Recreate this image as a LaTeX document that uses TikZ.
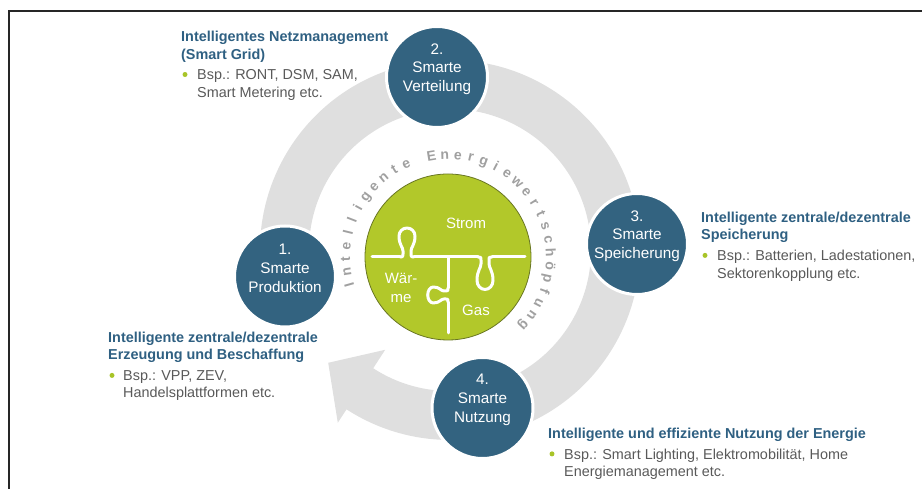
\documentclass[tikz,border=0pt]{standalone}
\usepackage{fontspec}
\setmainfont{Liberation Sans}
\usetikzlibrary{positioning}

\definecolor{smartblue}{RGB}{51,99,128}
\definecolor{headblue}{RGB}{47,96,130}
\definecolor{bodygray}{RGB}{89,89,89}
\definecolor{mixgreen}{RGB}{178,200,42}
\definecolor{mixedge}{RGB}{105,118,35}
\definecolor{dotgreen}{RGB}{168,196,40}
\definecolor{ringgray}{RGB}{223,223,223}
\definecolor{lettergray}{RGB}{160,160,160}

\tikzset{
  knob/.pic={
    \draw[puzzle] (-7,0) .. controls (-4,0) .. (-4,3) -- (-4,6)
      .. controls (-4,10) and (-8,12) .. (-8,21)
      arc[start angle=180, end angle=0, radius=8]
      .. controls (8,12) and (4,10) .. (4,6) -- (4,3) .. controls (4,0) .. (7,0);
  }
}

\begin{document}
\begin{tikzpicture}[x=1pt, y=1pt,
    stage/.style={circle, fill=smartblue, draw=white, line width=3, minimum size=101, inner sep=0},
    stagetext/.style={text=white, align=center, font=\fontsize{15.3}{18.7}\selectfont},
    head/.style={text=headblue, align=left, inner sep=0, anchor=north west, font=\fontsize{14.4}{17.5}\selectfont\bfseries},
    bsp/.style={text=bodygray, align=left, inner sep=0, font=\fontsize{14.4}{17.5}\selectfont},
    dot/.style={circle, fill=dotgreen, minimum size=5, inner sep=0},
    puzzle/.style={draw=white, line width=3, line cap=round, line join=round},
    mixtext/.style={text=white, align=center, font=\fontsize{15}{19}\selectfont},
    letter/.style={text=lettergray, inner sep=0, anchor=base, font=\fontsize{14}{14}\selectfont\bfseries}]
  \useasboundingbox (0,0) rectangle (922,489);
  \draw[line width=2, black!85] (9,0) -- (9,478) -- (922,478);

  \begin{scope}[shift={(450,239)}]
    \fill[ringgray] (190:190) arc[start angle=190, end angle=-123, radius=190]
      -- (-123:206) -- (-137.2:166) -- (-123:119) -- (-123:141)
      arc[start angle=-123, end angle=190, radius=141] -- cycle;
  \end{scope}

  \node[stage, label={[stagetext, yshift=8]center:{1.\\Smarte\\Produktion}}] (prod) at (285,212.5) {};
  \node[stage, label={[stagetext, yshift=8]center:{2.\\Smarte\\Verteilung}}] (vert) at (437,412) {};
  \node[stage, label={[stagetext, yshift=8]center:{3.\\Smarte\\Speicherung}}] (speich) at (637,245) {};
  \node[stage, label={[stagetext, yshift=8]center:{4.\\Smarte\\Nutzung}}] (nutz) at (482.5,81) {};

  \node[circle, fill=mixgreen, draw=mixedge, line width=0.8, minimum size=166, inner sep=0] (mix) at (448,232) {};
  \draw[puzzle] (372,232) -- (400,232);
  \pic at (407,232) {knob};
  \draw[puzzle] (414,232) -- (478,232);
  \pic[rotate=180, yscale=1.12] at (485,232) {knob};
  \draw[puzzle] (492,232) -- (525,232);
  \draw[puzzle] (448,232) -- (448,201);
  \pic[rotate=90, yscale=0.7] at (448,194) {knob};
  \draw[puzzle] (448,187) -- (448,156);
  \node[mixtext] (strom) at (466,265.7) {Strom};
  \node[mixtext] (waerme) at (401,201) {Wär-\\me};
  \node[mixtext] (gas) at (476,179) {Gas};

  \begin{scope}[shift={(448,232)}]
    \foreach \ch [count=\i, evaluate=\i as \a using 196-(\i-1)*7.44] in
        {I,n,t,e,l,l,i,g,e,n,t,e,,E,n,e,r,g,i,e,w,e,r,t,s,c,h,ö,p,f,u,n,g}
      \node[letter, rotate=\a-90] (l\i) at (\a:98) {\ch};
  \end{scope}

  \node[head] (netz) at (181,458) {Intelligentes Netzmanagement\\(Smart Grid)};
  \node[bsp, below right=7 and 16 of netz.south west] (netzbsp) {Bsp.: RONT, DSM, SAM,\\Smart Metering etc.};
  \node[dot] (netzdot) at ([xshift=-12, yshift=-5.2]netzbsp.north west) {};

  \node[head] (speicher) at (701,277.2) {Intelligente zentrale/dezentrale\\Speicherung};
  \node[bsp, below right=7 and 16 of speicher.south west] (speicherbsp) {Bsp.: Batterien, Ladestationen,\\Sektorenkopplung etc.};
  \node[dot] (speicherdot) at ([xshift=-12, yshift=-5.2]speicherbsp.north west) {};

  \node[head] (erzeug) at (108,157.2) {Intelligente zentrale/dezentrale\\Erzeugung und Beschaffung};
  \node[bsp, below right=7 and 15 of erzeug.south west] (erzeugbsp) {Bsp.: VPP, ZEV,\\Handelsplattformen etc.};
  \node[dot] (erzeugdot) at ([xshift=-11, yshift=-5.2]erzeugbsp.north west) {};

  \node[head] (nutzung) at (548,61.2) {Intelligente und effiziente Nutzung der Energie};
  \node[bsp, below right=7 and 16 of nutzung.south west] (nutzungbsp) {Bsp.: Smart Lighting, Elektromobilität, Home\\Energiemanagement etc.};
  \node[dot] (nutzungdot) at ([xshift=-12, yshift=-5.2]nutzungbsp.north west) {};
\end{tikzpicture}
\end{document}
